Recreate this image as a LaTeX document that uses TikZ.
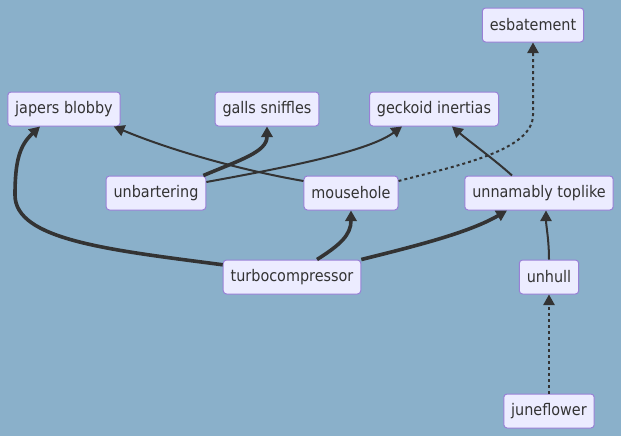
\documentclass[tikz,border=0pt]{standalone}
\usepackage{fontspec}
\setmainfont{DejaVu Sans Condensed}
\usetikzlibrary{arrows.meta,calc}
\definecolor{bgblue}{RGB}{138,176,202}
\definecolor{boxfill}{RGB}{236,236,255}
\definecolor{boxline}{RGB}{152,128,214}
\definecolor{ink}{RGB}{51,51,51}

\begin{document}
\begin{tikzpicture}[x=0.75pt,y=-0.75pt,line join=round,
  box/.style={draw=boxline,fill=boxfill,line width=0.75pt,rounded corners=2.5pt,
    minimum height=25.5pt,inner xsep=5.6pt,text=ink,font=\fontsize{12}{14}\selectfont},
  lnk/.style={draw=ink,line width=1.5pt,-{Triangle[length=8pt,width=8.5pt]}},
  lnkthick/.style={lnk,line width=2.7pt},
  lnkdot/.style={lnk,dash pattern=on 2.25pt off 2.25pt}]
  \useasboundingbox[fill=bgblue] (0,0) rectangle (621,436);
  % top row
  \node[box] (esbatement) at (533,25) {esbatement};
  \node[box] (japers) at (64,109) {japers blobby};
  \node[box] (galls) at (267,109) {galls sniffles};
  \node[box] (geckoid) at (434,109) {geckoid inertias};
  % middle row
  \node[box] (unbartering) at (156,193) {unbartering};
  \node[box] (mousehole) at (351,193) {mousehole};
  \node[box] (toplike) at (539,193) {unnamably toplike};
  \node[box] (turbo) at (292,277) {turbocompressor};
  \node[box] (unhull) at (549,277) {unhull};
  \node[box] (juneflower) at (549,411) {juneflower};
  % edges
  \draw[lnkthick] (turbo.170) .. controls (110,250) and (15,240) .. (15,195)
    .. controls (15,160) and (20,145) .. ($(japers.south)+(-24,0)$);
  \draw[lnkthick] ($(turbo.north)+(25,0)$) .. controls (340,245) and (351,235) .. (mousehole.south);
  \draw[lnkthick] (turbo.north east) .. controls (420,245) and (470,232) .. ($(toplike.south)+(-32,0)$);
  \draw[lnkthick] ($(unbartering.north east)+(-3,0)$) .. controls (240,160) and (267,152) .. (galls.south);
  \draw[lnk] ($(unbartering.east)+(0,-11)$) .. controls (300,165) and (370,150) .. ($(geckoid.south)+(-32,0)$);
  \draw[lnk] ($(mousehole.west)+(0,-12)$) .. controls (240,170) and (170,150) .. ($(japers.south east)+(-7,0)$);
  \draw[lnkdot] ($(mousehole.east)+(0,-12)$) .. controls (460,165) and (533,150) .. (533,115) -- (esbatement.south);
  \draw[lnk] ($(toplike.north)+(-27,0)$) .. controls (495,160) and (470,142) .. ($(geckoid.south)+(18,0)$);
  \draw[lnk] (unhull.north) .. controls (549,240) and (546,225) .. ($(toplike.south)+(7,0)$);
  \draw[lnkdot] (juneflower.north) -- (unhull.south);
\end{tikzpicture}
\end{document}
